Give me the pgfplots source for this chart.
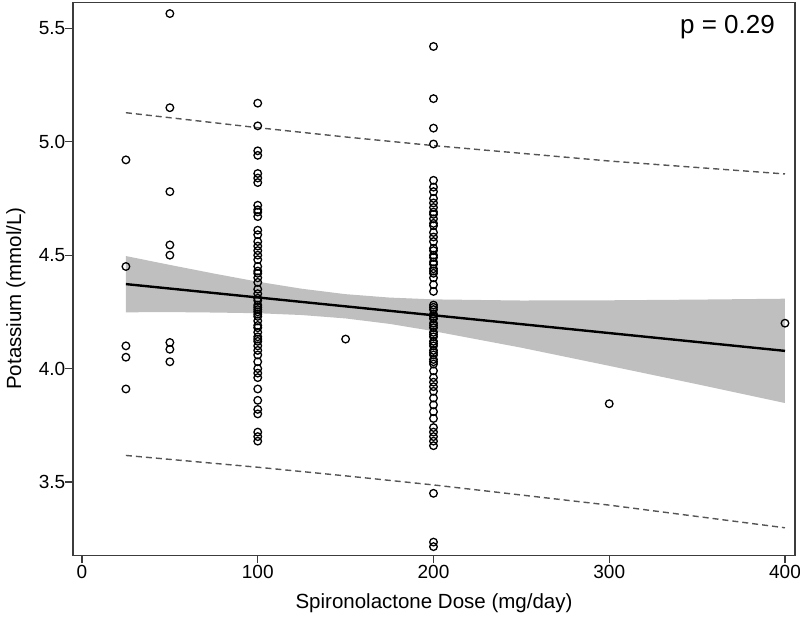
\documentclass[border=0pt]{standalone}
\usepackage{pgfplots}
\pgfplotsset{compat=1.18}
\usepackage{fontspec}
\setmainfont{Liberation Sans}
\definecolor{bandgray}{RGB}{191,191,191}
\definecolor{framegray}{RGB}{60,60,60}
\definecolor{dashgray}{RGB}{85,85,85}
\begin{document}
\begin{tikzpicture}
\begin{axis}[
  at={(0,0)}, anchor=south west,
  scale only axis, width=722pt, height=553pt,
  xmin=-5.12, xmax=405.7, ymin=3.175, ymax=5.613,
  xtick={0,100,200,300,400},
  ytick={3.5,4.0,4.5,5.0,5.5},
  yticklabel style={/pgf/number format/fixed, /pgf/number format/fixed zerofill, /pgf/number format/precision=1, inner sep=0pt, xshift=0pt},
  /pgf/number format/assume math mode=true,
  tick align=outside, tick pos=left,
  major tick length=7.5pt,
  axis line style={line width=1.4pt, draw=framegray},
  every tick/.style={framegray, line width=1.3pt},
  ticklabel style={font=\fontsize{19}{22}\selectfont},
  xticklabel style={inner sep=0pt, yshift=-2pt},
  xlabel={Spironolactone Dose (mg/day)},
  ylabel={Potassium (mmol/L)},
  label style={font=\fontsize{20.5}{24}\selectfont},
  xlabel style={at={(axis description cs:0.5,0)}, anchor=north, yshift=-38pt, inner sep=0pt},
  ylabel style={at={(axis description cs:-0.0793,0.465)}, anchor=center, inner sep=0pt},
  clip=false,
]
% confidence band of the mean
\addplot[draw=none, fill=bandgray] coordinates {
 (25,4.496) (50,4.457) (75,4.419) (100,4.383) (125,4.352) (150,4.328) (175,4.313) (200,4.305)
 (250,4.300) (300,4.301) (350,4.304) (400,4.308)
 (400,3.848) (350,3.931) (300,4.012) (250,4.092) (200,4.165) (175,4.197) (150,4.221)
 (125,4.236) (100,4.244) (75,4.247) (50,4.249) (25,4.248)
} -- cycle;
% scatter points
\addplot[only marks, mark=o, mark size=3.8pt, mark options={line width=1.3pt, black}] table {
x y
25 4.92
25 4.45
25 4.10
25 4.05
25 3.91
50 5.565
50 5.15
50 4.78
50 4.545
50 4.50
50 4.115
50 4.085
50 4.03
150 4.13
300 3.845
400 4.20
100 5.17
100 5.07
100 4.96
100 4.94
100 4.86
100 4.84
100 4.82
100 4.72
100 4.70
100 4.69
100 4.67
100 4.61
100 4.59
100 4.56
100 4.54
100 4.52
100 4.50
100 4.48
100 4.45
100 4.43
100 4.42
100 4.40
100 4.38
100 4.35
100 4.33
100 4.31
100 4.30
100 4.28
100 4.27
100 4.26
100 4.25
100 4.24
100 4.23
100 4.21
100 4.19
100 4.18
100 4.16
100 4.14
100 4.13
100 4.12
100 4.10
100 4.08
100 4.06
100 4.03
100 4.00
100 3.98
100 3.96
100 3.91
100 3.86
100 3.82
100 3.80
100 3.72
100 3.70
100 3.68
200 5.42
200 5.19
200 5.06
200 4.99
200 4.83
200 4.80
200 4.78
200 4.75
200 4.73
200 4.71
200 4.69
200 4.68
200 4.66
200 4.64
200 4.63
200 4.60
200 4.58
200 4.56
200 4.53
200 4.52
200 4.50
200 4.49
200 4.47
200 4.46
200 4.44
200 4.43
200 4.42
200 4.40
200 4.37
200 4.34
200 4.28
200 4.27
200 4.26
200 4.24
200 4.23
200 4.22
200 4.20
200 4.19
200 4.18
200 4.16
200 4.15
200 4.14
200 4.12
200 4.11
200 4.10
200 4.08
200 4.07
200 4.06
200 4.04
200 4.03
200 4.02
200 3.99
200 3.96
200 3.94
200 3.92
200 3.90
200 3.87
200 3.84
200 3.81
200 3.78
200 3.74
200 3.72
200 3.70
200 3.68
200 3.66
200 3.45
200 3.235
200 3.215
};
% regression line
\addplot[black, line width=2.4pt] coordinates {(25,4.3724) (400,4.078)};
% prediction interval
\addplot[dashgray, line width=1.4pt, dash pattern=on 6pt off 4pt] coordinates {
 (25,5.128) (100,5.062) (150,5.021) (200,4.983) (300,4.915) (400,4.858)};
\addplot[dashgray, line width=1.4pt, dash pattern=on 6pt off 4pt] coordinates {
 (25,3.617) (100,3.565) (150,3.527) (200,3.487) (300,3.398) (400,3.298)};
\node[anchor=north east, inner sep=0pt, font=\fontsize{26}{30}\selectfont] at ([xshift=-20pt,yshift=-12pt]rel axis cs:1,1) {p = 0.29};
\end{axis}
\pgfresetboundingbox
\path[use as bounding box] (-73pt,-65.3pt) rectangle (727pt,555.7pt);
\end{tikzpicture}
\end{document}
